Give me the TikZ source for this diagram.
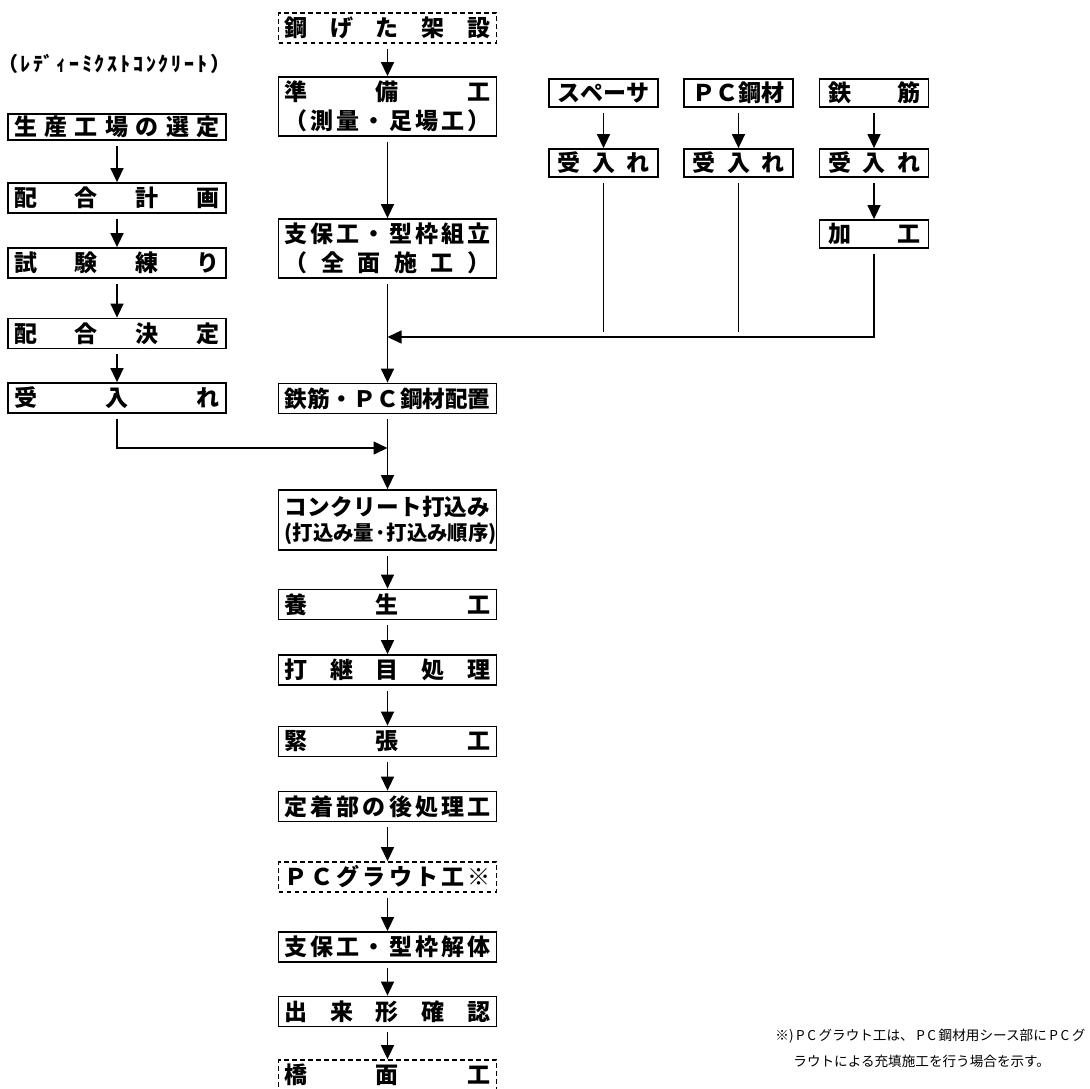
\documentclass[tikz,border=0pt]{standalone}
\usepackage{fontspec}
\setmainfont{Noto Sans CJK JP}
\usetikzlibrary{arrows.meta}

\newcommand{\wide}[1]{\makebox[103pt][s]{#1}}
\newcommand{\narrow}[1]{\makebox[46pt][s]{#1}}

\tikzset{
	box/.style={draw, line width=0.9pt, inner sep=0pt, minimum width=109pt, minimum height=15pt, align=center, font=\fontsize{11.5}{14.5}\selectfont\bfseries},
	smallbox/.style={box, minimum width=54.5pt, minimum height=14pt},
	dashbox/.style={box, dash pattern=on 2.4pt off 1.6pt},
	flow/.style={line width=0.75pt, -{Triangle[width=6.5pt,length=7pt]}, shorten <=2.5pt},
	link/.style={line width=0.75pt, shorten <=2.5pt},
	note/.style={anchor=west, inner sep=0pt, font=\fontsize{6.8}{8}\selectfont}
}

\begin{document}
\begin{tikzpicture}[x=0.5pt, y=-0.5pt]
			\useasboundingbox (0,0) rectangle (1090,1088);
			\node[font=\fontsize{10}{12}\selectfont\bfseries] (rmc) at (114,64) {\makebox[116pt][s]{（\hfill ﾚ\hfill ﾃﾞ\hfill ｨ\hfill ｰ\hfill ﾐ\hfill ｸ\hfill ｽ\hfill ﾄ\hfill ｺ\hfill ﾝ\hfill ｸ\hfill ﾘ\hfill ｰ\hfill ﾄ\hfill ）}};
			\node[box, minimum height=13pt] (site) at (117,127) {\wide{生\hfill 産\hfill 工\hfill 場\hfill の\hfill 選\hfill 定}};
			\node[box] (mixplan) at (117,198) {\wide{配\hfill 合\hfill 計\hfill 画}};
			\node[box] (trial) at (117,263) {\wide{試\hfill 験\hfill 練\hfill り}};
			\node[box] (mixfix) at (117,333.5) {\wide{配\hfill 合\hfill 決\hfill 定}};
			\node[box] (accept) at (117,398) {\wide{受\hfill 入\hfill れ}};

			\node[dashbox] (girder) at (387.5,28) {\wide{鋼\hfill げ\hfill た\hfill 架\hfill 設}};
			\node[box, minimum height=29.5pt] (prep) at (387.5,106.5) {\wide{準\hfill 備\hfill 工}\\\wide{（\hfill 測\hfill 量\hfill ・\hfill 足\hfill 場\hfill 工\hfill ）}};
			\node[box, minimum height=29.5pt] (form) at (387.5,248.5) {\wide{支\hfill 保\hfill 工\hfill ・\hfill 型\hfill 枠\hfill 組\hfill 立}\\\wide{（\hfill 全\hfill 面\hfill 施\hfill 工\hfill ）}};
			\node[box, font=\fontsize{11.3}{14.5}\selectfont\bfseries] (place) at (387.5,398.5) {\wide{鉄筋\hfill ・\hfill Ｐ\hfill Ｃ\hfill 鋼材配置}};
			\node[box, minimum height=30pt, font=\fontsize{11.3}{12.5}\selectfont\bfseries] (pour) at (387.5,520) {\wide{コ\hfill ン\hfill ク\hfill リ\hfill ー\hfill ト\hfill 打\hfill 込\hfill み}\\{\fontsize{10.2}{12.5}\selectfont\wide{(打\hfill 込\hfill み\hfill 量\hfill ·\hfill 打\hfill 込\hfill み\hfill 順\hfill 序)}}};
			\node[box] (cure) at (387.5,604.5) {\wide{養\hfill 生\hfill 工}};
			\node[box] (joint) at (387.5,670) {\wide{打\hfill 継\hfill 目\hfill 処\hfill 理}};
			\node[box] (stress) at (387.5,741.5) {\wide{緊\hfill 張\hfill 工}};
			\node[box] (fix) at (387.5,806.5) {\wide{定\hfill 着\hfill 部\hfill の\hfill 後\hfill 処\hfill 理\hfill 工}};
			\node[dashbox] (grout) at (387.5,877) {\wide{Ｐ\hfill Ｃ\hfill グ\hfill ラ\hfill ウ\hfill ト\hfill 工\hfill ※}};
			\node[box] (strip) at (387.5,947) {\wide{支\hfill 保\hfill 工\hfill ・\hfill 型\hfill 枠\hfill 解\hfill 体}};
			\node[box] (check) at (387.5,1011.5) {\wide{出\hfill 来\hfill 形\hfill 確\hfill 認}};
			\node[dashbox] (deck) at (387.5,1075) {\wide{橋\hfill 面\hfill 工}};

			\node[smallbox] (spacer) at (603.5,93) {\narrow{ス\hfill ペ\hfill ー\hfill サ}};
			\node[smallbox] (pcs) at (738.5,93) {\narrow{\hfill Ｐ\hfill Ｃ\hfill 鋼材}};
			\node[smallbox] (rebar) at (874,93) {\narrow{鉄\hfill 筋}};
			\node[smallbox] (sAcc) at (603.5,163) {\narrow{受\hfill 入\hfill れ}};
			\node[smallbox] (pAcc) at (738.5,163) {\narrow{受\hfill 入\hfill れ}};
			\node[smallbox] (rAcc) at (874,163) {\narrow{受\hfill 入\hfill れ}};
			\node[smallbox] (bend) at (874,234) {\narrow{加\hfill 工}};

			\coordinate (sEnd) at (603.5,332);
			\coordinate (pEnd) at (738.5,332);
			\coordinate (hub) at (387.5,337);
			\coordinate (mix) at (387.5,448);

			\draw[flow] (site) -- (mixplan);
			\draw[flow] (mixplan) -- (trial);
			\draw[flow] (trial) -- (mixfix);
			\draw[flow] (mixfix) -- (accept);
			\draw[flow] (accept) |- (mix);

			\draw[flow] (girder) -- (prep);
			\draw[flow] (prep) -- (form);
			\draw[flow] (form) -- (place);
			\draw[flow] (place) -- (pour);
			\draw[flow] (pour) -- (cure);
			\draw[flow] (cure) -- (joint);
			\draw[flow] (joint) -- (stress);
			\draw[flow] (stress) -- (fix);
			\draw[flow] (fix) -- (grout);
			\draw[flow] (grout) -- (strip);
			\draw[flow] (strip) -- (check);
			\draw[flow] (check) -- (deck);

			\draw[flow] (spacer) -- (sAcc);
			\draw[flow] (pcs) -- (pAcc);
			\draw[flow] (rebar) -- (rAcc);
			\draw[flow] (rAcc) -- (bend);
			\draw[link] (sAcc) -- (sEnd);
			\draw[link] (pAcc) -- (pEnd);
			\draw[flow] (bend) |- (hub);

			\node[note] (note1) at (775,1036) {\makebox[155pt][s]{※)\hfill P\hfill C\hfill グラウト工は、\hfill P\hfill C\hfill 鋼材用シース部に\hfill P\hfill C\hfill グ}};
			\node[note] (note2) at (793,1061) {ラウトによる充填施工を行う場合を示す。};
\end{tikzpicture}
\end{document}
